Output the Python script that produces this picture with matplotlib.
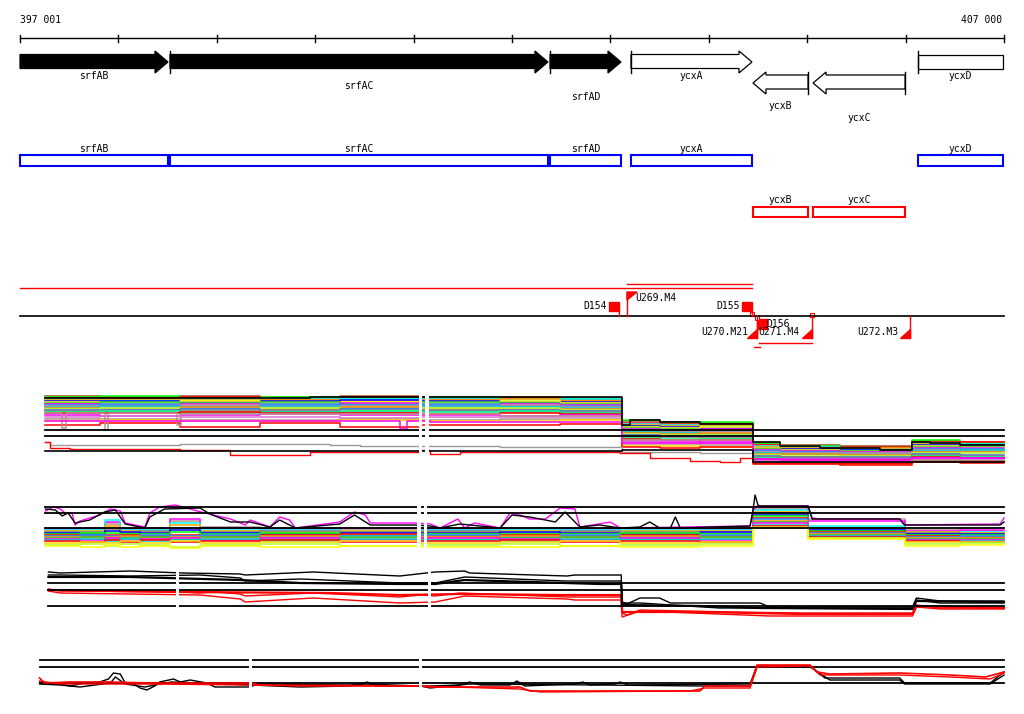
import matplotlib
matplotlib.use("Agg")
import matplotlib.pyplot as plt
from matplotlib.patches import Polygon, Rectangle

plt.rcParams['font.family'] = ['DejaVu Sans Mono']

# --- region shown ---
START = 397001
END = 407000

# --- genes ---
GENE_NAMES = ['srfAB', 'srfAC', 'srfAD', 'ycxA', 'ycxB', 'ycxC', 'ycxD']
GENE_START = [397001, 398525, 402387, 403210, 404449, 405060, 406127]
GENE_END = [398505, 402366, 403108, 404439, 405009, 405995, 407350]
GENE_STRAND = ['+', '+', '+', '+', '-', '-', '+']
GENE_KNOWN = [True, True, True, False, False, False, False]

# --- features (segments / transcript units) ---
D_NAMES = ['D154', 'D155', 'D156']
D_POS = [403088, 404439, 404592]
U_NAMES = ['U269.M4', 'U270.M21', 'U271.M4', 'U272.M3']
U_POS = [403169, 404490, 405049, 406046]

# --- track 1: expression profiles (many conditions) ---
T1_X = [397260, 397810, 398630, 399440, 400250, 401070, 401880, 402490,
        403120, 403500, 403910, 404450, 404720, 405330, 406070, 406550]
T1_COLORS = ['#A0522D', '#00FF00', '#FF0000', '#00FFFF', '#FFA500', '#0000FF',
             '#FFFF00', '#32CD32', '#FF00FF', '#1E90FF', '#BC8F8F', '#00CED1',
             '#FF8C00', '#ADFF2F', '#4169E1', '#808080', '#00FF7F', '#FF0000',
             '#FF00FF', '#DA70D6', '#BC8F8F', '#FFD700', '#FF0000']
T1_VALUES = [
    [79, 78, 79, 78, 79, 78, 78, 77, 54, 53, 52, 31, 30, 29, 34, 33],
    [78, 79, 77, 78, 77, 78, 77, 76, 55, 52, 53, 32, 29, 28, 35, 32],
    [77, 77, 78, 76, 78, 76, 77, 75, 52, 51, 51, 30, 28, 28, 33, 33],
    [76, 75, 76, 77, 76, 77, 75, 76, 51, 50, 49, 29, 28, 26, 32, 31],
    [75, 76, 75, 75, 74, 75, 76, 74, 50, 49, 50, 28, 27, 27, 31, 30],
    [74, 74, 73, 74, 75, 74, 73, 73, 49, 48, 47, 27, 26, 25, 30, 30],
    [73, 72, 74, 72, 73, 72, 74, 72, 48, 47, 48, 27, 25, 24, 29, 28],
    [72, 73, 72, 73, 71, 73, 72, 71, 47, 46, 45, 26, 24, 24, 28, 29],
    [71, 70, 71, 70, 72, 70, 71, 70, 46, 45, 46, 25, 24, 23, 27, 27],
    [70, 71, 69, 71, 70, 71, 69, 69, 45, 44, 44, 24, 23, 22, 26, 26],
    [69, 68, 70, 68, 69, 68, 70, 68, 44, 43, 43, 23, 22, 22, 25, 24],
    [68, 69, 67, 69, 67, 69, 68, 67, 43, 42, 41, 22, 21, 20, 24, 25],
    [67, 66, 68, 66, 68, 66, 66, 66, 42, 41, 42, 21, 21, 20, 23, 23],
    [66, 67, 65, 67, 65, 67, 67, 65, 41, 40, 40, 20, 19, 19, 22, 22],
    [65, 65, 66, 64, 66, 64, 65, 64, 40, 39, 39, 19, 18, 18, 21, 20],
    [64, 63, 64, 65, 63, 65, 63, 63, 38, 38, 37, 18, 18, 17, 20, 19],
    [63, 64, 62, 63, 64, 63, 64, 62, 37, 36, 36, 17, 16, 16, 19, 18],
    [62, 62, 63, 62, 62, 61, 62, 61, 36, 35, 35, 16, 15, 15, 18, 17],
    [60, 59, 60, 61, 60, 60, 59, 60, 34, 34, 33, 15, 15, 14, 17, 17],
    [58, 59, 58, 58, 57, 58, 58, 58, 33, 32, 32, 14, 13, 13, 16, 15],
    [56, 56, 55, 55, 56, 55, 56, 56, 31, 31, 30, 13, 13, 12, 15, 14],
    [54, 55, 54, 54, 55, 54, 54, 55, 29, 29, 28, 12, 12, 11, 14, 13],
    [50, 52, 48, 52, 48, 50, 50, 51, 28, 27, 28, 11, 11, 10, 13, 12],
]
T1_TOP_X = [397260, 399950, 403120, 403200, 403500, 403910, 404450, 404720,
            405130, 405740, 406070, 406250, 406550]
T1_TOP_Y = [77, 78, 50, 55, 53, 51, 33, 29, 27, 25, 33, 32, 30]
T1_DIP_X = [397260, 397430, 397470, 397860, 397900, 398600, 398640, 401880, 403120, 404450]
T1_DIP_Y = [62, 47, 62, 45, 62, 50, 61, 59, 35, 15]
T1_MDIP_X = [397260, 400860, 400930, 401170, 403120, 404450, 406070]
T1_MDIP_Y = [54, 46, 54, 53, 32, 16, 17]
T1_GRAY_X = [397260, 397310, 398630, 400150, 400460, 401880, 403120, 403910, 404450, 406070]
T1_GRAY_Y = [33, 30, 31, 30, 29, 28, 23, 22, 13, 15]
T1_RED_X = [397260, 397310, 397510, 398630, 399140, 399950, 401070, 401170, 401470,
            403100, 403400, 403810, 404110, 404320, 404450, 406070]
T1_RED_Y = [33, 27, 26, 25, 20, 23, 25, 21, 23, 22, 17, 14, 13, 17, 12, 14]
T1_LOW_X = [397260, 403120, 404450]
T1_LOW_Y = [24, 25, 13]
T1_THRESH = [45, 39]

# --- track 2: second profile set ---
T2_X = [397260, 397610, 397860, 398020, 398220, 398530, 398830, 399440, 400250,
        401070, 401880, 402490, 403100, 403910, 404450, 405010, 405990, 406550]
T2_COLORS = ['#BC8F8F', '#FF00FF', '#00FFFF', '#FFA500', '#808080', '#0000FF',
             '#00FF00', '#FF0000', '#1E90FF', '#FF8C00', '#32CD32', '#FF00FF',
             '#00CED1', '#FF0000', '#FFD700', '#ADFF2F', '#FFFF00']
T2_VALUES = [
    [22, 21, 26, 22, 21, 29, 23, 22, 21, 22, 21, 22, 21, 22, 41, 31, 20, 19],
    [21, 22, 28, 21, 22, 31, 22, 21, 22, 21, 22, 21, 22, 21, 43, 29, 19, 20],
    [20, 20, 30, 20, 20, 27, 20, 20, 19, 20, 20, 20, 20, 20, 40, 24, 18, 18],
    [19, 19, 24, 19, 18, 25, 19, 18, 19, 18, 19, 18, 19, 19, 38, 22, 18, 17],
    [18, 18, 21, 17, 19, 22, 18, 19, 18, 19, 17, 19, 18, 17, 37, 21, 17, 16],
    [17, 16, 19, 18, 17, 20, 17, 16, 17, 17, 18, 17, 16, 18, 35, 20, 16, 16],
    [16, 17, 17, 16, 16, 18, 16, 17, 15, 16, 16, 16, 17, 16, 34, 19, 15, 15],
    [15, 14, 15, 15, 14, 15, 14, 15, 16, 14, 15, 14, 15, 14, 32, 18, 14, 13],
    [14, 15, 14, 13, 15, 14, 15, 13, 14, 15, 13, 15, 13, 15, 31, 17, 13, 14],
    [13, 12, 13, 14, 12, 13, 12, 14, 12, 13, 14, 12, 14, 12, 29, 16, 12, 12],
    [12, 13, 11, 12, 13, 11, 13, 11, 13, 11, 12, 13, 11, 13, 28, 15, 11, 11],
    [11, 10, 12, 10, 11, 12, 10, 12, 10, 12, 11, 10, 12, 10, 27, 14, 10, 10],
    [10, 11, 9, 11, 9, 10, 11, 9, 11, 10, 9, 11, 10, 11, 25, 14, 9, 9],
    [9, 8, 10, 8, 10, 8, 9, 10, 8, 9, 10, 8, 9, 8, 24, 13, 9, 8],
    [7, 8, 7, 9, 7, 9, 7, 8, 9, 7, 8, 9, 7, 8, 23, 12, 8, 8],
    [5, 6, 4, 6, 5, 3, 5, 6, 4, 5, 6, 4, 5, 6, 22, 12, 6, 7],
    [4, 3, 5, 3, 4, 2, 4, 3, 4, 3, 3, 4, 3, 4, 22, 11, 4, 5],
]
T2_MAG_X = [397260, 397340, 397410, 397460, 397530, 397560, 397610, 397810, 397920,
            398020, 398070, 398270, 398320, 398420, 398580, 398880, 399140, 399290,
            399340, 399540, 399640, 399740, 399800, 400250, 400400, 400510, 400560,
            401010, 401170, 401270, 401370, 401450, 401520, 401620, 401880, 401980,
            402080, 402180, 402340, 402490, 402640, 402690, 403000, 403100, 404420,
            404450, 404490, 405010, 405050, 405130, 405940, 405990, 406960, 407000]
T2_MAG_Y = [39, 43, 41, 37, 37, 25, 29, 35, 41, 39, 27, 23, 37, 43, 45, 37, 31, 25,
            30, 23, 33, 30, 22, 28, 38, 35, 27, 27, 26, 22, 27, 31, 22, 27, 22, 37,
            35, 31, 31, 42, 41, 23, 28, 22, 24, 40, 44, 44, 32, 31, 31, 25, 26, 32]
T2_BLK_X = [397260, 397360, 397430, 397490, 397560, 397710, 397860, 397970, 398070,
            398270, 398320, 398470, 398830, 398930, 399140, 399340, 399540, 399640,
            399800, 400250, 400400, 400560, 401010, 401170, 401270, 401470, 401880,
            402000, 402180, 402340, 402440, 402540, 402690, 402890, 403100, 403300,
            403400, 403500, 403610, 403660, 403710, 404420, 404450, 404470, 404500,
            404520, 405010, 405050, 405940, 405990, 406960, 407000]
T2_BLK_Y = [41, 40, 34, 37, 27, 30, 38, 40, 26, 22, 33, 41, 42, 36, 28, 28, 23, 30,
            22, 26, 35, 25, 25, 24, 22, 26, 22, 35, 33, 30, 28, 38, 23, 25, 22, 23,
            28, 22, 22, 33, 22, 24, 40, 55, 45, 44, 44, 31, 31, 25, 25, 28]
T2_THRESH = [43, 37, 22]

# --- track 3: averaged profiles ---
T3_BLK_A_X = [397290, 397410, 398120, 398660, 399240, 399290, 399980, 400860, 401220,
              401520, 401570, 402560, 402640, 403110, 403120, 403170, 403300, 403500,
              403610, 404520, 404620, 406070, 406110, 406350, 407000]
T3_BLK_A_Y = [48, 47, 49, 47, 46, 45, 48, 44, 48, 49, 47, 44, 45, 45, 18, 16, 22, 22,
              17, 17, 13, 13, 22, 19, 19]
T3_BLK_B_X = [397290, 397410, 398120, 398830, 399240, 399290, 399850, 400860, 401220,
              401520, 402540, 403110, 403120, 403300, 404110, 406070, 406110, 406350, 407000]
T3_BLK_B_Y = [45, 45, 44, 45, 42, 39, 41, 37, 37, 43, 39, 39, 17, 17, 12, 12, 20, 17, 17]
T3_BLK_C_X = [397290, 398120, 399240, 399850, 400860, 401220, 401520, 402540, 402890,
              403110, 403120, 403910, 404520, 406070, 406110, 407000]
T3_BLK_C_Y = [43, 43, 40, 37, 36, 36, 40, 37, 36, 36, 15, 14, 12, 11, 19, 18]
T3_RED_A_X = [397290, 397410, 398630, 398830, 398980, 399240, 399290, 399980, 400860,
              401070, 401220, 401470, 402560, 403110, 403120, 403170, 403300, 404220,
              404930, 406070, 406110, 406350, 407000]
T3_RED_A_Y = [31, 29, 28, 27, 28, 26, 24, 27, 23, 25, 24, 27, 23, 23, 7, 5, 10, 8,
              7, 7, 15, 12, 12]
T3_RED_B_X = [397290, 397410, 398830, 399240, 399290, 399980, 400860, 401220, 401520,
              402560, 402640, 403110, 403120, 403300, 404620, 406070, 406110, 406350, 407000]
T3_RED_B_Y = [29, 27, 25, 21, 18, 22, 17, 18, 24, 21, 20, 20, 3, 9, 4, 4, 13, 11, 11]
T3_RED_C_X = [397290, 398630, 400150, 400860, 401470, 402490, 403110, 403120, 403910,
              404930, 406070, 406110, 407000]
T3_RED_C_Y = [30, 28, 27, 25, 26, 25, 25, 8, 8, 6, 6, 14, 12]
T3_THRESH = [37, 30, 14]

# --- track 4: ratio profiles ---
T4_BLK_A_X = [397200, 397250, 397460, 397510, 397660, 397810, 397900, 397950, 398020,
              398070, 398150, 398220, 398290, 398370, 398420, 398560, 398630, 398730,
              398900, 398980, 399340, 399410, 400350, 400460, 400530, 400610, 401070,
              401170, 401470, 401570, 401680, 401980, 402050, 402130, 402640, 402720,
              402790, 403050, 403100, 403180, 404420, 404490, 405030, 405180, 405940,
              405990, 406860, 407000]
T4_BLK_A_Y = [15, 14, 12, 11, 14, 15, 18, 24, 23, 14, 14, 9, 7, 11, 15, 18, 15, 17,
              14, 10, 10, 13, 12, 13, 15, 11, 11, 11, 12, 15, 12, 12, 16, 11, 13, 15,
              12, 13, 15, 12, 13, 31, 31, 19, 19, 14, 14, 25]
T4_BLK_B_X = [397200, 397410, 397610, 397920, 397970, 398070, 398270, 398420, 398540,
              398830, 399340, 399850, 400350, 400510, 401070, 401170, 401570, 402890,
              403910, 404420, 404490, 405030, 405230, 405940, 405990, 406860, 407000]
T4_BLK_B_Y = [13, 12, 10, 14, 20, 13, 10, 13, 15, 14, 12, 10, 11, 13, 11, 9, 13, 12,
              11, 11, 30, 30, 17, 17, 13, 13, 22]
T4_RED_A_X = [397200, 397250, 397510, 397920, 398320, 399340, 399440, 401070, 401170,
              402080, 402180, 403910, 403960, 404420, 404490, 405030, 405100, 405230,
              405940, 406450, 406810, 407000]
T4_RED_A_Y = [19, 14, 15, 15, 14, 14, 12, 11, 10, 10, 6, 6, 11, 11, 32, 32, 25, 23,
              24, 22, 20, 25]
T4_RED_B_X = [397200, 397410, 398320, 399340, 399850, 401070, 402080, 402290, 403810,
              403960, 404420, 404490, 405030, 405130, 405940, 406450, 406860, 407000]
T4_RED_B_Y = [16, 13, 13, 12, 11, 11, 8, 5, 6, 9, 9, 30, 31, 22, 22, 20, 18, 24]
T4_THRESH = [37, 30, 14]

# ------------------------------------------------------------------
W, H = 1024, 714
BPP = (END - START) / 984.0          # bases per pixel column
XMIN = START - 20 * BPP
XMAX = START + 1004 * BPP

fig = plt.figure(figsize=(W / 100.0, H / 100.0), dpi=100)
ax = fig.add_axes([0, 0, 1, 1])
ax.set_xlim(XMIN, XMAX)
ax.set_ylim(H, 0)
ax.axis('off')

FS = 7

# ruler
ax.plot([START, END], [38, 38], color='black', lw=1)
for t in range(START, END + 2, 1000):
    ax.plot([t, t], [35, 42], color='black', lw=1)
ax.text(START, 20, '397 001', fontsize=FS, ha='left', va='center')
ax.text(END - 2 * BPP, 20, '407 000', fontsize=FS, ha='right', va='center')

# gene arrows
label_y = [76, 86, 97, 76, 106, 118, 76]
head = 13 * BPP
for i in range(len(GENE_NAMES)):
    s, e = GENE_START[i], GENE_END[i]
    fc = 'black' if GENE_KNOWN[i] else 'white'
    if GENE_STRAND[i] == '+':
        y0, y1, b0, b1 = 51, 73, 54.5, 68.5
    else:
        y0, y1, b0, b1 = 72, 94, 75, 89
    ym = (y0 + y1) / 2.0
    if e > END:
        e = END - BPP
        pts = [(s, b0), (e, b0), (e, b1), (s, b1)]
    elif GENE_STRAND[i] == '+':
        pts = [(s, b0), (e - head, b0), (e - head, y0), (e, ym),
               (e - head, y1), (e - head, b1), (s, b1)]
    else:
        pts = [(e, b0), (s + head, b0), (s + head, y0), (s, ym),
               (s + head, y1), (s + head, b1), (e, b1)]
    ax.add_patch(Polygon(pts, closed=True, facecolor=fc, edgecolor='black', lw=0.9))
    bar = s if GENE_STRAND[i] == '+' else e
    if bar > START:
        ax.plot([bar, bar], [y0, y1], color='black', lw=1)
    ax.text((s + min(e, END)) / 2.0, label_y[i], GENE_NAMES[i], fontsize=FS,
            ha='center', va='center')

# annotation boxes
for i in range(len(GENE_NAMES)):
    s, e = GENE_START[i], min(GENE_END[i], END - BPP)
    if GENE_STRAND[i] == '+':
        top, col, ly = 155, '#0000FF', 149
    else:
        top, col, ly = 207, '#FF0000', 200
    ax.add_patch(Rectangle((s, top), e - s, 11 if top == 155 else 10,
                           facecolor='none', edgecolor=col, lw=1.5))
    ax.text((s + e) / 2.0, ly, GENE_NAMES[i], fontsize=FS, ha='center', va='center')

# feature track
RED = '#FF0000'
ax.plot([START, D_POS[1]], [288, 288], color=RED, lw=1)
ax.plot([U_POS[0], D_POS[1]], [284, 284], color=RED, lw=1)
ax.plot([START, END], [316, 316], color='black', lw=1.2)
sq = 10 * BPP
# D154, D155 above the line
for k in range(2):
    p = D_POS[k]
    ax.add_patch(Rectangle((p - sq, 302), sq, 9, facecolor=RED, edgecolor=RED))
    ax.plot([p, p], [311, 316], color=RED, lw=1)
    ax.text(p - sq - 2 * BPP, 306, D_NAMES[k], fontsize=FS, ha='right', va='center')
# D156 below
p = D_POS[2]
ax.add_patch(Rectangle((p - sq, 319), sq, 10, facecolor=RED, edgecolor=RED))
ax.text(p - 1 * BPP, 324, D_NAMES[2], fontsize=FS, ha='left', va='center')
# small open squares near D155/D156
for xs, ys in [(404420, 312), (404470, 316), (405025, 313)]:
    ax.add_patch(Rectangle((xs, ys), 4 * BPP, 4, facecolor='white', edgecolor=RED, lw=0.8))

# U269 flag above the line
p = U_POS[0]
ax.plot([p, p], [292, 316], color=RED, lw=1)
ax.add_patch(Polygon([(p, 292), (p + 10 * BPP, 292), (p, 300)], facecolor=RED, edgecolor=RED))
ax.text(p + 8 * BPP, 298, U_NAMES[0], fontsize=FS, ha='left', va='center')
# U270..U272 flags below the line
for k in range(1, 4):
    p = U_POS[k]
    ax.plot([p, p], [316, 338], color=RED, lw=1)
    ax.add_patch(Polygon([(p - 10 * BPP, 338), (p, 338), (p, 329)], facecolor=RED, edgecolor=RED))
ax.text(U_POS[1] - 9 * BPP, 332, U_NAMES[1], fontsize=FS, ha='right', va='center')
ax.text(U_POS[1] + 1 * BPP, 332, U_NAMES[2], fontsize=FS, ha='left', va='center')
ax.text(U_POS[3] - 12 * BPP, 332, U_NAMES[3], fontsize=FS, ha='right', va='center')
ax.plot([U_POS[1] + 2 * BPP, U_POS[2]], [343, 343], color=RED, lw=1)
ax.plot([404460, 404520], [347, 347], color=RED, lw=1)


def track_axes(top, bottom):
    a = fig.add_axes([0, 1 - bottom / float(H), 1, (bottom - top) / float(H)])
    a.set_xlim(XMIN, XMAX)
    a.set_ylim(0, bottom - top)
    a.axis('off')
    return a


def gaps(a, spans):
    for g0, g1 in spans:
        a.axvspan(g0, g1, color='white', lw=0, zorder=10)


# track 1
a1 = track_axes(390, 475)
for c, v in zip(T1_COLORS, T1_VALUES):
    a1.step(T1_X + [END], v + [v[-1]], where='post', color=c, lw=1.1)
a1.step(T1_DIP_X, T1_DIP_Y, where='post', color='#BC8F8F', lw=1.1)
a1.step(T1_MDIP_X + [END], T1_MDIP_Y + [T1_MDIP_Y[-1]], where='post', color='#FF00FF', lw=1.1)
a1.step(T1_GRAY_X + [END], T1_GRAY_Y + [T1_GRAY_Y[-1]], where='post', color='#999999', lw=1)
a1.step(T1_RED_X + [END], T1_RED_Y + [T1_RED_Y[-1]], where='post', color='#FF0000', lw=1)
a1.step(T1_LOW_X + [END], T1_LOW_Y + [T1_LOW_Y[-1]], where='post', color='black', lw=1.2)
a1.step(T1_TOP_X + [END], T1_TOP_Y + [T1_TOP_Y[-1]], where='post', color='black', lw=1.2)
for t in T1_THRESH:
    a1.plot([T1_X[0], END], [t, t], color='black', lw=1.3)
gaps(a1, [(401055, 401086), (401116, 401157)])

# track 2
a2 = track_axes(490, 550)
for c, v in zip(T2_COLORS, T2_VALUES):
    a2.step(T2_X + [END], v + [v[-1]], where='post', color=c, lw=1.1)
a2.plot(T2_MAG_X, T2_MAG_Y, color='#FF00FF', lw=1)
a2.plot(T2_BLK_X, T2_BLK_Y, color='black', lw=1)
for t in T2_THRESH:
    a2.plot([T2_X[0], END], [t, t], color='black', lw=1.3)
gaps(a2, [(401035, 401076), (401106, 401137)])

# track 3
a3 = track_axes(565, 620)
a3.plot(T3_RED_C_X, T3_RED_C_Y, color='#FF0000', lw=1.6)
a3.plot(T3_RED_A_X, T3_RED_A_Y, color='#FF0000', lw=1)
a3.plot(T3_RED_B_X, T3_RED_B_Y, color='#FF0000', lw=1)
a3.plot(T3_BLK_C_X, T3_BLK_C_Y, color='black', lw=1.6)
a3.plot(T3_BLK_A_X, T3_BLK_A_Y, color='black', lw=1)
a3.plot(T3_BLK_B_X, T3_BLK_B_Y, color='black', lw=1)
for t in T3_THRESH:
    a3.plot([T3_BLK_A_X[0], END], [t, t], color='black', lw=1.3)
gaps(a3, [(398586, 398617), (401147, 401178)])

# track 4
a4 = track_axes(652, 697)
for t in T4_THRESH:
    a4.plot([T4_BLK_A_X[0], END], [t, t], color='black', lw=1.3)
a4.plot(T4_BLK_A_X, T4_BLK_A_Y, color='black', lw=1)
a4.plot(T4_BLK_B_X, T4_BLK_B_Y, color='black', lw=1)
a4.plot(T4_RED_A_X, T4_RED_A_Y, color='#FF0000', lw=1.2)
a4.plot(T4_RED_B_X, T4_RED_B_Y, color='#FF0000', lw=1)
gaps(a4, [(399328, 399358), (401055, 401086)])

fig.savefig('out.png', dpi=100)
